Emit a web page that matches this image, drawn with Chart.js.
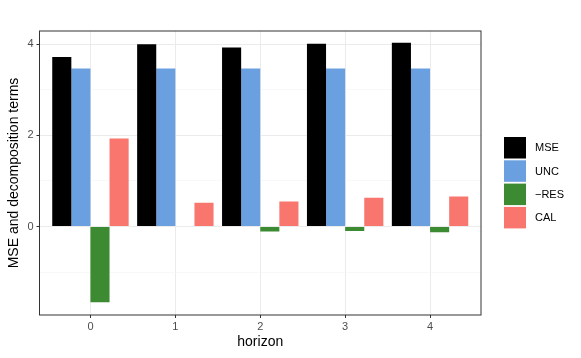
<!DOCTYPE html>
<html lang="en">
<head>
<meta charset="UTF-8">
<title>MSE decomposition by horizon</title>
<style>
  html, body { margin: 0; padding: 0; background: #fff; }
  #wrap { width: 581px; height: 358px; }
</style>
<script src="https://cdn.jsdelivr.net/npm/chart.js"></script>
</head>
<body>
<div id="wrap"><canvas id="chart" width="581" height="358"></canvas></div>
<script>
// data
const horizons = [0, 1, 2, 3, 4];
const mse = [3.72, 4.00, 3.93, 4.01, 4.03];
const unc = [3.47, 3.47, 3.47, 3.47, 3.47];
const negRes = [-1.66, -0.01, -0.11, -0.095, -0.125];
const cal = [1.93, 0.52, 0.55, 0.63, 0.66];
const yTicks = [-1, 0, 1, 2, 3, 4];

const FONT = "'Liberation Sans', Arial, sans-serif";

const series = [
  { label: 'MSE', values: mse, color: '#000000' },
  { label: 'UNC', values: unc, color: '#6A9FE0' },
  { label: '\u2212RES', values: negRes, color: '#3C8B32' },
  { label: 'CAL', values: cal, color: '#F8766D' }
];

// ggplot-like panel border + legend on the right
const panelAndLegend = {
  id: 'panelAndLegend',
  afterDraw(chart) {
    const ctx = chart.ctx;
    const a = chart.chartArea;
    ctx.save();
    ctx.strokeStyle = '#333333';
    ctx.lineWidth = 1;
    ctx.strokeRect(a.left, a.top, a.right - a.left, a.bottom - a.top);

    const x0 = 504, y0 = 137, w = 22, h = 21.5, step = 23.3;
    ctx.font = '11px ' + FONT;
    ctx.textBaseline = 'middle';
    ctx.textAlign = 'left';
    chart.data.datasets.forEach((ds, i) => {
      const y = y0 + i * step;
      ctx.fillStyle = ds.backgroundColor;
      ctx.fillRect(x0, y, w, h);
      ctx.fillStyle = '#000000';
      ctx.fillText(ds.label, 535, y + h / 2 + 0.5);
    });
    ctx.restore();
  }
};

new Chart(document.getElementById('chart'), {
  type: 'bar',
  data: {
    datasets: series.map(s => ({
      label: s.label,
      data: horizons.map((h, i) => ({ x: h, y: s.values[i] })),
      backgroundColor: s.color,
      borderWidth: 0,
      categoryPercentage: 0.9,
      barPercentage: 1.0
    }))
  },
  options: {
    responsive: false,
    animation: false,
    layout: { padding: { left: 0, top: 31, right: 100, bottom: 0 } },
    plugins: {
      legend: { display: false },
      tooltip: { enabled: false }
    },
    scales: {
      x: {
        type: 'linear',
        min: -0.6,
        max: 4.6,
        offset: false,
        afterBuildTicks: s => { s.ticks = horizons.map(v => ({ value: v })); },
        afterFit: s => { s.height = 43; },
        grid: { offset: false, color: '#EBEBEB', lineWidth: 1, tickLength: 3, tickColor: '#333333' },
        border: { display: false },
        ticks: { font: { family: FONT, size: 11 }, color: '#4D4D4D', padding: 2, maxRotation: 0 },
        title: { display: true, text: 'horizon', font: { family: FONT, size: 14 }, color: '#000000', padding: { top: 0, bottom: 7 } }
      },
      y: {
        min: -1.94,
        max: 4.29,
        afterBuildTicks: s => { s.ticks = yTicks.map(v => ({ value: v })); },
        afterFit: s => { s.width = 39.5; },
        grid: {
          color: c => (c.tick && c.tick.value % 2 === 0) ? '#EBEBEB' : '#F4F4F4',
          lineWidth: c => (c.tick && c.tick.value % 2 === 0) ? 1 : 0.6,
          tickLength: 3,
          tickColor: c => (c.tick && c.tick.value % 2 === 0) ? '#333333' : 'rgba(0,0,0,0)'
        },
        border: { display: false },
        ticks: {
          font: { family: FONT, size: 11 },
          color: '#4D4D4D',
          padding: 3,
          callback: v => (v % 2 === 0 ? String(v) : '')
        },
        title: { display: true, text: 'MSE and decomposition terms', font: { family: FONT, size: 14 }, color: '#000000', padding: { top: 6, bottom: 0 } }
      }
    }
  },
  plugins: [panelAndLegend]
});
</script>
</body>
</html>
